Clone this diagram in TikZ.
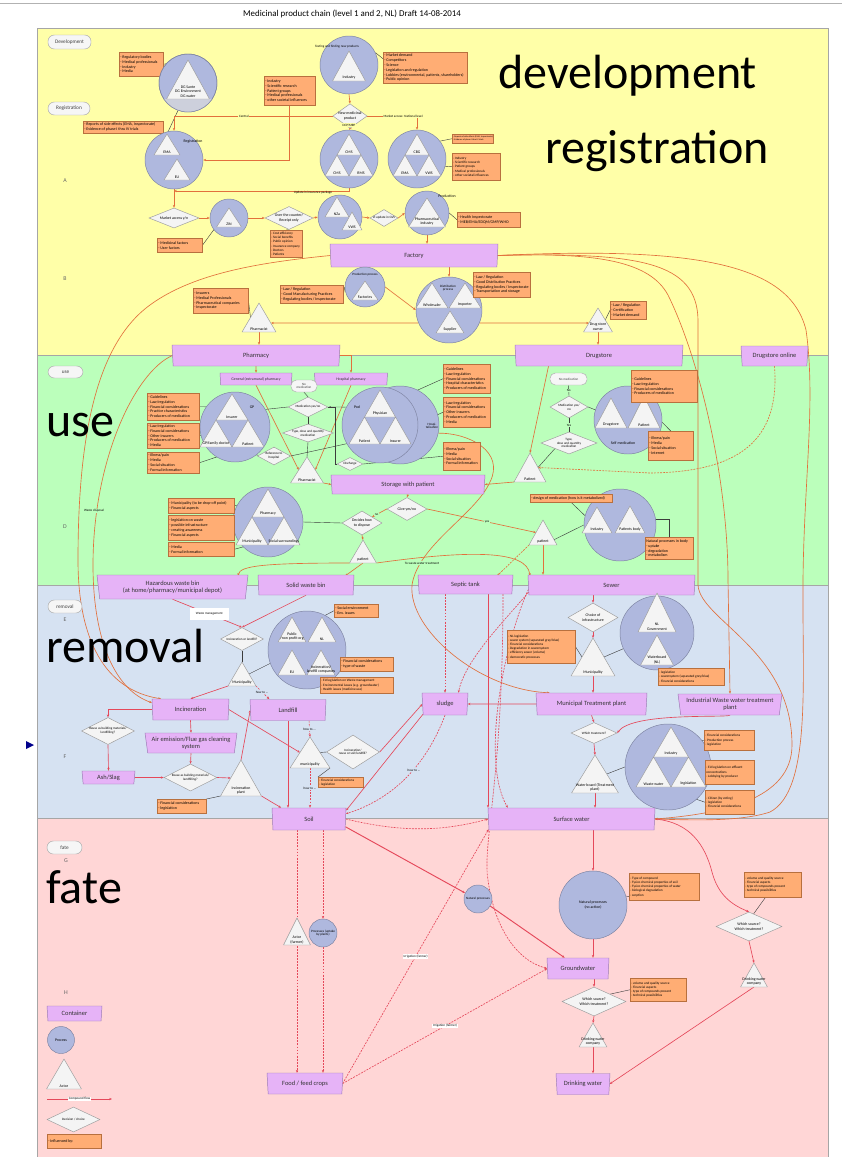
\documentclass[tikz,border=0pt]{standalone}
\usepackage{fontspec}
\setmainfont{Carlito}
\usetikzlibrary{shapes.geometric,arrows.meta}

\definecolor{bandyellow}{HTML}{FFFFA8}
\definecolor{bandgreen}{HTML}{BBFFBB}
\definecolor{bandblue}{HTML}{D6E2F2}
\definecolor{bandpink}{HTML}{FFD6D6}
\definecolor{contfill}{HTML}{E6B3F7}
\definecolor{contdraw}{HTML}{9A7AB3}
\definecolor{procfill}{HTML}{AFB8DE}
\definecolor{procdraw}{HTML}{7E84A2}
\definecolor{procpale}{HTML}{CDD0DC}
\definecolor{actfill}{HTML}{F4F4F4}
\definecolor{actdraw}{HTML}{9C9C9C}
\definecolor{inflfill}{HTML}{FFAD74}
\definecolor{infldraw}{HTML}{B8703E}
\definecolor{floworange}{HTML}{E2703C}
\definecolor{flowred}{HTML}{E5485A}
\definecolor{inkline}{HTML}{3C3C3C}

\newcommand\titlefont{\fontsize{7.6}{9}\selectfont}
\newcommand\bigfont{\fontsize{41}{41}\selectfont}
\newcommand\contfont{\fontsize{5.5}{6.3}\selectfont}
\newcommand\boxfont{\fontsize{3.4}{4.1}\selectfont}
\newcommand\minibox{\fontsize{2.9}{3.6}\selectfont}
\newcommand\labfont{\fontsize{3.3}{3.9}\selectfont}
\newcommand\tinyfont{\fontsize{2.8}{3.2}\selectfont}
\newcommand\pillfont{\fontsize{4.5}{5}\selectfont}
\newcommand\rowfont{\fontsize{5}{6}\selectfont}

\pgfdeclarelayer{back}
\pgfdeclarelayer{lines}
\pgfsetlayers{back,lines,main}

\tikzset{
  wh/.style 2 args={minimum width={#1*0.3mm}, minimum height={#2*0.3mm}},
  rad/.style={minimum size={2*#1*0.3mm}},
  container/.style={trapezium, trapezium angle=78, shape border rotate=180,
    trapezium stretches body, draw=contdraw, fill=contfill, font=\contfont,
    text=black!80, align=center, inner sep=0pt},
  smallcont/.style={container, font=\labfont},
  process/.style={circle, draw=procdraw, fill=procfill, inner sep=0pt,
    font=\labfont, align=center},
  actorshape/.style={draw=actdraw, fill=actfill, line join=round},
  actorlab/.style={anchor=south, font=\labfont, align=center, inner sep=0.6pt},
  decision/.style={diamond, aspect=2, draw=actdraw, fill=actfill,
    font=\labfont, align=center, inner sep=0pt},
  inflrect/.style={rectangle, draw=infldraw, fill=inflfill, inner sep=0pt},
  infltext/.style={anchor=west, align=left, font=\boxfont, inner sep=0pt},
  phasepill/.style={rectangle, rounded corners=1.9mm, draw=gray!65, fill=gray!7,
    font=\pillfont, text=black!75, inner sep=0pt, align=center},
  bigword/.style={anchor=base west, inner sep=0pt, font=\bigfont},
  rowlab/.style={font=\rowfont, text=black!60},
  plainnote/.style={font=\labfont, inner sep=0.5pt, align=center},
  linetag/.style={fill=white, font=\tinyfont, inner sep=0.6pt},
  arrowtip/.style={-{Stealth[length=2.4pt,width=1.9pt]}},
  flow/.style={draw=floworange, line width=0.55pt, arrowtip},
  rflow/.style={draw=flowred, line width=0.55pt, arrowtip},
  dflow/.style={rflow, dash pattern=on 1.6pt off 1pt},
  link/.style={draw=inkline, line width=0.35pt},
  linka/.style={link, shorten <=0.6pt, shorten >=0.6pt, -{Stealth[length=1.6pt,width=1.3pt]}},
}

% actor: name, apex x, apex y, half width, height, label
\newcommand\actor[6]{%
  \draw[actorshape] (#2,#3) coordinate (#1-t) -- ++(-#4,#5) coordinate (#1-l)
    -- ++({2*#4},0) coordinate (#1-r) -- cycle;
  \coordinate (#1-b) at (#2,{#3+#5});
  \coordinate (#1-w) at ({#2-#4/2},{#3+#5/2});
  \coordinate (#1-e) at ({#2+#4/2},{#3+#5/2});
  \node[actorlab] (#1) at (#2,{#3+#5-0.5}) {#6};
}
% influence box: [text options] name, x, y, width, height, lines
\newcommand\influence[7][]{%
  \node[inflrect, wh={#5}{#6}, anchor=north west] (#2) at (#3,#4) {};
  \node[infltext, #1] at ([xshift=0.9pt]#2.west) {#7};
}

\begin{document}
\begin{tikzpicture}[x=0.3mm,y=-0.3mm]
\useasboundingbox (0,0) rectangle (842,1157);
\begin{pgfonlayer}{back}
  \fill[white] (0,0) rectangle (842,1157);
  \fill[bandyellow] (37,28) rectangle (828,355);
  \fill[bandgreen] (37,355) rectangle (828,585);
  \fill[bandblue] (37,585) rectangle (828,818);
  \fill[bandpink] (37,818) rectangle (828,1157);
  \draw[gray!60, line width=0.6pt] (0,3) -- (842,3);
  \draw[gray!70, line width=0.5pt] (37,1157) -- (37,28) -- (828,28) -- (828,1157);
  \foreach \yy in {355,585,818} \draw[gray!70, line width=0.5pt] (37,\yy) -- (828,\yy);
\end{pgfonlayer}

\node[font=\titlefont] (title) at (352,14) {Medicinal product chain (level 1 and 2, NL) Draft 14-08-2014};

% phase pills and row letters
\node[phasepill, wh={43}{14}] (pdev) at (69.5,42) {Development};
\node[phasepill, wh={42}{13}] (preg) at (69,108.5) {Registration};
\node[phasepill, wh={35}{12}] (puse) at (65.5,372) {use};
\node[phasepill, wh={34}{13}] (prem) at (65,606.5) {removal};
\node[phasepill, wh={35}{13}] (pfate) at (64.5,847.5) {fate};
\node[rowlab] (rowA) at (65,181) {A};
\node[rowlab] (rowB) at (65,279) {B};
\node[rowlab] (rowD) at (65,527) {D};
\node[rowlab] (rowE) at (65,620) {E};
\node[rowlab] (rowF) at (65,757) {F};
\node[rowlab] (rowG) at (66,861) {G};
\node[rowlab] (rowH) at (66,993) {H};
\node[bigword] (wdev) at (498,88) {development};
\node[bigword] (wreg) at (545,163) {registration};
\node[bigword] (wuse) at (46,436) {use};
\node[bigword] (wrem) at (46,662) {removal};
\node[bigword] (wfate) at (46,903) {fate};
\fill[blue!55!black] (26,741) -- (34,745) -- (26,749) -- cycle;

% ---------- development / registration ----------
\influence{boxdg}{119}{52}{44}{24}{- Regulatory bodies\\- Medical professionals\\- Industry\\- Media}
\node[process, rad=29] (dgc) at (188,83) {};
\begin{scope}
  \clip (188,83) circle[radius=29];
  \fill[procpale] (150,99) rectangle (230,115);
\end{scope}
\draw[procdraw] (188,83) circle[radius=29];
\actor{dgt}{188}{60}{21.5}{39}{DG Sante\\DG Environment\\DG water}

\influence{boxside}{83}{121}{80}{12}{- Reports of side effects (EMA, Inspectorate)\\- Evidence of phase I thru IV trials}
\node[process, rad=29] (regc) at (174,160) {};
\node[plainnote] (reglab) at (193,141) {Registration};
\actor{ema}{167}{134}{13}{21}{EMA}
\actor{eu}{177}{159}{13}{21}{EU}
\coordinate (regj) at (174,191);

\node[decision, wh={50}{20}, aspect=2.5] (mkt) at (174,218) {Market access y/n};
\node[process, rad=19] (zinc) at (229,218) {};
\actor{zin}{229}{208}{12.5}{19}{ZiN}
\influence{boxzin}{157}{238}{45}{14}{- Medicinal factors\\- User factors}
\node[decision, wh={48}{23}, aspect=2.1] (otc) at (289,218) {Over the counter/\\Receipt only};
\influence[font=\minibox]{boxotc}{270}{230}{32}{27}{- Cost efficiency\\- Social benefits\\- Public opinion\\- Insurance company\\- Doctors\\- Patients}

\node[process, rad=29] (indc) at (349,65) {};
\actor{indt}{349}{51}{16.5}{30}{Industry}
\node[plainnote, font=\tinyfont] (indlab) at (337,47) {Testing and finding new products};
\influence{boxind}{383}{52}{84}{31}{- Market demand\\- Competitors\\- Science\\- Legislation and regulation\\- Lobbies (environmental, patients, shareholders)\\- Public opinion}
\influence{boxsoc}{264}{76}{51}{29}{- Industry\\- Scientific research\\- Patient groups\\- Medical professionals\\- other societal influences}
\node[decision, wh={32}{23}, aspect=1.4] (newprod) at (350,116) {New medicinal\\product};

\node[process, rad=29] (dcpc) at (349,159) {};
\node[plainnote, font=\tinyfont, fill=bandyellow] (dcplab) at (349,125) {DCP/MRP};
\actor{dcp1}{349}{134}{12}{21}{CMS}
\actor{dcp2}{337}{155}{12}{21}{CMS}
\actor{dcp3}{361}{155}{12}{21}{RMS}
\node[process, rad=29] (cbgc) at (417,159) {};
\actor{cbg1}{417}{134}{12}{21}{CBG}
\actor{cbg2}{405}{155}{12}{21}{EMA}
\actor{cbg3}{429}{155}{12}{21}{VWS}
\influence[font=\fontsize{1.9}{2.4}\selectfont]{boxcbga}{452}{134}{41}{9}{- Reports of side effects (EMA, Inspectorate)\\- Evidence of phase I thru IV trials}
\influence[font=\minibox]{boxcbgb}{452}{153}{48}{27}{- Industry\\- Scientific research\\- Patient groups\\- Medical professionals\\- other societal influences}

\node[process, rad=22] (updc) at (340,217) {};
\actor{upd1}{337}{197}{12}{20}{NZa}
\actor{upd2}{352}{212}{10}{18}{VWS}
\node[plainnote, font=\tinyfont] (updlab) at (313,193) {Update in insurance package};
\node[decision, wh={28}{17}, aspect=1.65, font=\tinyfont] (gvs) at (384,218) {ZI update in GVS};
\node[process, rad=22] (prodc) at (427,213) {};
\node[plainnote] (prodlab) at (447,196) {Production};
\actor{prodt}{427}{198}{18.5}{29}{Pharmaceutical\\industry}
\influence{boxprod}{457}{212}{63}{15}{- Health Inspectorate\\- MEB/EMA/EDQM/GMP/WHO}

\node[container, wh={168}{23}] (factory) at (414,255.5) {Factory};
\node[process, rad=20] (ppc) at (365,287) {};
\node[plainnote, font=\tinyfont] (pplab) at (365,275) {Production process};
\actor{ppt}{365}{281}{13}{19}{Factories}
\influence{boxgmp}{280}{285}{63}{18}{- Law / Regulation\\- Good Manufacturing Practices\\- Regulating bodies / Inspectorate}
\node[process, rad=33] (distc) at (449,310) {};
\actor{dwhole}{432}{283}{16}{25}{Wholesaler}
\actor{dimp}{465}{283}{16}{25}{Importer}
\actor{dsup}{450}{311}{14}{22}{Supplier}
\node[plainnote, font=\tinyfont] (distlab) at (448,288) {Distribution\\process};
\influence{boxgdp}{473}{272}{57}{25}{- Law / Regulation\\- Good Distribution Practices\\- Regulating bodies / Inspectorate\\- Transportation and storage}

\influence{boxpharm}{193}{288}{55}{25}{- Insurers\\- Medical Professionals\\- Pharmaceutical companies\\- Inspectorate}
\actor{pharm}{259}{303}{17}{29}{Pharmacist}
\coordinate (pharmin) at (271,323);
\actor{dso}{598}{308}{14.5}{24}{Drug store\\owner}
\coordinate (dsoin) at (589,323);
\influence{boxdso}{610}{301}{36}{18}{- Law / Regulation\\- Certification\\- Market demand}

\node[container, wh={168}{21}] (pharmacy) at (256,355.5) {Pharmacy};
\node[container, wh={168}{21}] (drugstore) at (599,355.5) {Drugstore};
\node[container, wh={67}{20}] (dsonline) at (774.5,356) {Drugstore online};

% ---------- use ----------
\node[smallcont, wh={72}{12}] (genph) at (256,379) {General (extramural) pharmacy};
\node[smallcont, wh={73}{12}] (hosph) at (351,379) {Hospital pharmacy};
\node[phasepill, font=\tinyfont, rounded corners=1.6mm, wh={26}{12}] (nomed1) at (304,386) {No\\medication};
\node[decision, wh={40}{20}, font=\tinyfont] (med1) at (308,407) {Medication yes/no};
\node[decision, wh={51}{18}, aspect=2.8, font=\tinyfont] (type1) at (308,433) {Type, dose and quantity\\medication};
\actor{pharm2}{307}{457}{16.5}{26}{Pharmacist}
\node[decision, wh={33}{18}, aspect=1.8, font=\tinyfont] (refh) at (274,456) {Reference to\\hospital};

\node[process, rad=35] (gpc) at (235,427) {};
\node[plainnote] (gplab) at (252,407) {GP};
\actor{gpins}{232}{394}{16}{26}{Insurer}
\actor{gpdoc}{216}{420}{16}{27}{GP/family doctor}
\actor{gppat}{248}{420}{16}{27}{Patient}
\influence{boxgpa}{147}{393}{52}{27}{- Guidelines\\- Law/regulation\\- Financial considerations\\- Practice characteristics\\- Producers of medication}
\influence{boxgpb}{147}{423}{52}{25}{- Law/regulation\\- Financial considerations\\- Other insurers\\- Producers of medication\\- Media}
\influence{boxgpc}{147}{452}{52}{21}{- Illness/pain\\- Media\\- Social situation\\- Formal information}

\node[process, rad=39] (podb) at (400,425) {};
\node[process, rad=38] (poda) at (380,425) {};
\node[plainnote] (podlab) at (357,407) {Pod};
\node[plainnote, font=\tinyfont] (hosplab) at (432,426) {Hospi-\\talisation};
\actor{podphy}{380}{390}{15.5}{27}{Physician}
\actor{podpat}{364.5}{417}{15.5}{27}{Patient}
\actor{podins}{395.5}{417}{15.5}{27}{Insurer}
\influence{boxpoda}{443}{364}{47}{29}{- Guidelines\\- Law/regulation\\- Financial considerations\\- Hospital characteristics\\- Producers of medication}
\influence{boxpodb}{443}{397}{47}{30}{- Law/regulation\\- Financial considerations\\- Other insurers\\- Producers of medication\\- Media}
\influence{boxpodc}{443}{442}{37}{28}{- Illness/pain\\- Media\\- Social situation\\- Formal information}
\node[decision, wh={26}{13}, font=\tinyfont] (disch) at (350,464) {Discharge};
\node[container, wh={154}{19}] (storage) at (408,484.5) {Storage with patient};

\node[phasepill, font=\tinyfont, rounded corners=1.6mm, wh={37}{12}] (nomed2) at (568.5,379) {No medication};
\node[decision, wh={38}{22}, aspect=1.7, font=\tinyfont] (med2) at (569,407) {Medication yes/\\no};
\node[decision, wh={56}{22}, aspect=2.6, font=\tinyfont] (type2) at (569,443) {Type,\\dose and quantity\\medication};
\actor{pat3}{530}{453}{16}{29}{Patient}
\node[process, rad=34] (smc) at (628,420) {};
\node[plainnote] (smlab) at (623,443) {Self medication};
\actor{smdrug}{611}{398}{16}{30}{Drugstore}
\actor{smpat}{644}{396}{16}{32}{Patient}
\influence{boxsma}{631}{370}{66}{32}{- Guidelines\\- Law/regulation\\- Financial considerations\\- Producers of medication}
\influence{boxsmb}{648}{431}{45}{29}{- Illness/pain\\- Media\\- Social situation\\- Internet}

\node[process, rad=35] (wdc) at (268,522) {};
\actor{wdph}{268}{489}{16}{28}{Pharmacy}
\actor{wdmun}{252}{517}{16}{28}{Municipality}
\actor{wdsoc}{284}{517}{16}{28}{Social surroundings}
\influence{boxwda}{168}{498}{66}{15}{- Municipality (to be drop-off point)\\- Financial aspects}
\influence{boxwdb}{168}{515}{66}{25}{- legislation on waste\\- possible infrastructure\\- creating awareness\\- Financial aspects}
\influence{boxwdc}{168}{542}{66}{14}{- Media\\- Formal information}
\node[decision, wh={40}{24}, aspect=1.7] (decide) at (362,523) {Decides how\\to dispose};
\node[decision, wh={40}{23}, aspect=1.8] (give) at (407,509) {Give yes/no};
\actor{pat1}{363}{540}{13.5}{23}{patient}
\actor{pat2}{543}{520}{14}{25}{patient}
\node[process, rad=36] (ipbc) at (620,525) {};
\actor{ipbind}{597}{507}{15}{26}{Industry}
\actor{ipbpat}{630}{506}{15}{27}{Patients body}
\influence{boxdesign}{530}{494}{82}{8}{- design of medication (how is it metabolized)}
\influence{boxnat}{645}{537}{48}{22}{Natural processes in body\\- uptake\\- degradation\\- metabolism}
\coordinate (hazin) at (238,576);
\coordinate (solin) at (345,576);
\coordinate (sewin) at (530,576);
\coordinate (sepin) at (497,576);

\node[container, wh={151}{24}] (hazard) at (172.5,587) {Hazardous waste bin\\(at home/pharmacy/municipal depot)};
\node[container, wh={96}{20}] (solid) at (306,585) {Solid waste bin};
\node[container, wh={95}{19}] (septic) at (465.5,584.5) {Septic tank};
\node[container, wh={167}{20}] (sewer) at (611.5,585) {Sewer};

% ---------- removal ----------
\node[decision, wh={43}{23}, aspect=1.9, font=\tinyfont] (incl) at (242,639) {Incineration or landfill?};
\actor{mun1}{242}{662}{14}{24}{Municipality}
\node[process, rad=39] (wmc) at (307,650) {};
\actor{wmpub}{292}{617}{14}{25}{Public\\/non profit org}
\actor{wmnl}{322}{617}{14}{25}{NL}
\actor{wmeu}{292}{650}{14}{25}{EU}
\actor{wminc}{321}{650}{14}{25}{Incineration/\\landfill companies}
\influence{boxrema}{334}{604}{44}{13}{- Social environment\\- Env. issues}
\influence{boxremb}{340}{657}{53}{14}{- Financial considerations\\- type of waste}
\influence[font=\minibox]{boxremc}{320}{677}{73}{16}{- EU legislation on Waste management\\- Environmental issues (e.g. groundwater)\\- Health issues (medicine use)}

\node[container, wh={77}{21}] (incin) at (190.5,709.5) {Incineration};
\node[container, wh={76}{21}] (landfill) at (288,710) {Landfill};
\node[container, wh={92}{20}] (air) at (191,743) {Air emission/Flue gas cleaning\\system};
\node[decision, wh={53}{27}, font=\tinyfont] (reuse1) at (108,731) {Reuse as building materials/\\landfilling?};
\node[container, wh={53}{13}] (ash) at (108.5,777.5) {Ash/Slag};
\node[decision, wh={53}{27}, font=\tinyfont] (reuse2) at (190.5,777.5) {Reuse as building materials/\\landfilling?};
\actor{incpl}{241}{760}{20.5}{36}{Incineration\\plant}
\influence{boxinc}{157}{799}{49}{14}{- Financial considerations\\- legislation}
\actor{mun2}{310}{737}{20}{31}{municipality}
\node[decision, wh={53}{34}, aspect=1.6, font=\tinyfont] (reuse3) at (353,752) {Incineration/\\reuse or soil/landfill?};
\influence[font=\minibox]{boxmun2}{318}{777}{45}{10}{- Financial considerations\\- legislation}
\node[container, wh={74}{22}] (soil) at (309,819) {Soil};
\node[container, wh={46}{22}] (sludge) at (445,704) {sludge};
\coordinate (sepout) at (488,594);
\coordinate (sepout2) at (503,594);

\node[decision, wh={50}{29}, aspect=1.7] (choice) at (593,617.5) {Choice of\\infrastructure};
\actor{mun3}{593}{638}{22}{38}{Municipality}
\influence[font=\minibox]{boxnl}{507}{630}{68}{33}{- NL legislation\\- sewer system (separated grey/blue)\\- Financial considerations\\- Degradation in sewersystem\\- efficiency sewer (volume)\\- democratic processes}
\node[process, rad=37] (nlc) at (657,633) {};
\actor{nlgov}{657}{593}{19}{39}{NL\\Government}
\actor{nlwb}{657}{635}{16.5}{30}{Waterboard\\(NL)}
\influence[font=\minibox]{boxwb}{658}{668}{66}{17}{- legislation\\- sewersystem (separated grey/blue)\\- Financial considerations}
\node[container, wh={111}{22}] (mtp) at (591.5,704) {Municipal Treatment plant};
\node[container, wh={104}{21}] (iwwt) at (730,704.5) {Industrial Waste water treatment\\plant};
\node[decision, wh={46}{21}, aspect=2.2, font=\tinyfont] (whtr) at (594,733) {Which treatment?};
\actor{wbt}{595}{755}{23.5}{38}{Water board (Treatment\\plant)}
\node[process, rad=43] (iwc) at (668,767) {};
\actor{iwind}{671}{727}{17.5}{30}{Industry}
\actor{iwww}{653.5}{757}{17.5}{30}{Waste water}
\actor{iwleg}{688.5}{757}{17.5}{30}{legislation}
\influence[font=\minibox]{boxiwa}{704}{730}{50}{20}{- Financial considerations\\- Production process\\- legislation}
\influence[font=\minibox]{boxiwb}{705}{760}{49}{24}{- EU legislation on effluent\\concentrations\\- Lobbying by producer}
\influence[font=\minibox]{boxiwc}{705}{790}{49}{24}{- Citizen (by voting)\\- legislation\\- Financial considerations}
\node[container, wh={167}{22}] (surf) at (571.5,819) {Surface water};

% ---------- fate ----------
\actor{farmer}{297}{918}{13.5}{27}{Actor\\(farmer)}
\node[process, rad=14, font=\tinyfont] (uplc) at (323,933) {Processes (uptake\\by plants)};
\node[process, rad=14, font=\tinyfont] (npsc) at (478,899) {Natural processes};
\node[process, rad=34] (npbc) at (593,905) {Natural processes\\(no action)};
\influence[font=\minibox]{boxnp}{629}{873}{70}{27}{- Type of compound\\- Fysico chemical properties of soil\\- Fysico chemical properties of water\\- biological degradation\\- sorption}
\influence[font=\minibox]{boxdsa}{744}{872}{57}{25}{- volume and quality source\\- Financial aspects\\- type of compounds present\\- technical possibilities}
\node[decision, wh={66}{29}, aspect=2.3] (ws1) at (749,926.5) {Which source?\\Which treatment?};
\actor{dwc1}{754}{963}{13.5}{24}{Drinking water\\company}
\node[container, wh={62}{21}] (gw) at (578,968.5) {Groundwater};
\node[decision, wh={64}{29}, aspect=2.3] (ws2) at (594,1001.5) {Which source?\\Which treatment?};
\influence[font=\minibox]{boxdsb}{630}{978}{56}{23}{- volume and quality source\\- Financial aspects\\- type of compounds present\\- technical possibilities}
\actor{dwc2}{593}{1023}{14}{24}{Drinking water\\company}
\node[container, wh={54}{21}] (dw) at (583,1084) {Drinking water};
\node[container, wh={76}{21}] (food) at (305,1083.5) {Food / feed crops};

% ---------- legend ----------
\node[container, wh={55}{15}] (lgcont) at (74.5,1013.5) {Container};
\node[process, rad=13.5] (lgproc) at (61,1040) {Process};
\actor{lgact}{64}{1059}{17.5}{30}{Actor}
\coordinate (lgf1) at (47,1099);
\coordinate (lgf2) at (112,1099);
\node[decision, wh={53}{25}, aspect=2.1, font=\tinyfont] (lgdec) at (73.5,1119.5) {Decision / choice};
\influence{lginfl}{47}{1134}{54}{14}{- Influenced by:}

% ---------- connectors ----------
\begin{pgfonlayer}{lines}
\draw[link] (boxdg.east) -- (dgt-t);
\draw[link] (dgc.250) -- (ema-t);
\draw[link] (boxside.east) -- (ema-w);
\draw[linka] (ema) -- (eu);
\draw[flow] (newprod.west) -| (regc.north) node[pos=0.28, linetag, fill=bandyellow] {Central};
\draw[flow] (newprod.east) -| (cbgc.north) node[pos=0.36, linetag, fill=bandyellow] {Market access: National level};
\draw[flow] (indc.south) -- (newprod.north);
\draw[flow] (newprod.south) -- (dcpc.north);
\draw[link] (indc.25) -- (boxind.168);
\draw[flow] (boxsoc.south) |- (regc.east);
\draw[flow] (regc.south) -- (mkt.north);
\draw[flow] (dcpc.south) |- (regj);
\draw[flow] (mkt.east) -- (zinc.west);
\draw[flow] (zinc.east) -- (otc.west);
\draw[flow] (otc.east) -- (updc.west);
\draw[flow] (updc.east) -- (gvs.west);
\draw[flow] (gvs.east) -- (prodc.west);
\draw[link] (boxzin.east) -- (zin-w);
\draw[link] (boxotc.north) -- (otc.south);
\draw[link] (boxprod.west) -- (prodc.east);
\draw[link] (boxcbga.west) -- (cbg1-e);
\draw[link] (boxcbgb.west) -- (cbg3-e);
\draw[linka] (upd1) -- (upd2);
\foreach \a/\b in {dcp1/dcp2, dcp2/dcp3, dcp3/dcp1, cbg1/cbg2, cbg2/cbg3, cbg3/cbg1,
  gpins/gpdoc, gpdoc/gppat, gppat/gpins, podphy/podpat, podpat/podins, podins/podphy,
  iwind/iwww, iwww/iwleg, iwleg/iwind, wmpub/wmnl, wmnl/wminc, wmpub/wmeu, wmeu/wminc}
  \draw[linka] (\a) -- (\b);
\draw[flow] (prodc.south) -- (prodc.south |- factory.north);
\draw[flow] (factory.south -| distc.north) -- (distc.north);
\draw[flow] (ppc.east) -- (distc.west);
\draw[link] (boxgmp.east) -- (ppc.west);
\draw[link] (boxgdp.west) -- (distc.35);
\draw[link] (boxpharm.east) -- (pharm-w);
\draw[flow] (distc.203) -- (pharmin);
\draw[flow] (distc.-23) -- (dsoin);
\draw[flow] (pharm-b) -- (pharm-b |- pharmacy.north);
\draw[flow] (dso-b) -- (dso-b |- drugstore.north);
\draw[link] (boxdso.west) -- (dso-e);

% long flows out of factory and pharmacy
\draw[flow] (factory.west) .. controls (265,262) and (195,272) .. (150,305)
  .. controls (95,345) and (78,440) .. (78,560) .. controls (78,640) and (105,690) .. (incin.160);
\draw[flow] (pharmacy.west) .. controls (135,372) and (93,460) .. (93,565)
  .. controls (93,640) and (115,690) .. (incin.170);
\node[linetag, fill=bandgreen] (wdlab) at (94,511) {Waste disposal};
\draw[flow] (factory.east) .. controls (640,252) and (697,262) .. (698,320) -- (698,585)
  .. controls (700,620) and (792,650) .. (792,745) .. controls (792,800) and (720,814) .. (surf.east);
\draw[flow] (factory.east) .. controls (600,252) and (650,262) .. (668,295)
  .. controls (700,360) and (728,480) .. (728,580) -- (iwwt.north);
\draw[flow] (factory.east) .. controls (700,246) and (790,265) .. (806,330)
  .. controls (816,400) and (804,480) .. (803,580) .. controls (802,680) and (812,790) .. (770,812)
  .. controls (740,822) and (690,820) .. (surf.east);
\draw[flow] (podb.-12) .. controls (470,433) and (505,452) .. (490,482)
  .. controls (475,515) and (418,545) .. (412,585) .. controls (408,630) and (480,690) .. (mtp.165);
\node[linetag, fill=bandgreen] (wwtlab) at (422,563) {To waste water treatment};

% use
\draw[flow] (pharmacy.south) -- (genph.north);
\draw[flow] (pharmacy.east) -| (hosph.north);
\draw[flow] (genph.south) -- (pharm2-w);
\draw[flow] (hosph.south) -- (pharm2-e);
\draw[link] (nomed1.south) -- (med1.north);
\draw[link] (med1.south) -- (type1.north);
\draw[link] (type1.south) -- (pharm2-t);
\draw[link] (gpc.30) -- (med1.west);
\draw[linka] (poda.152) -- (med1.east);
\draw[link] (disch.west) -- ++(-2,0) |- (med1.east);
\draw[link] (gppat.east) -- (refh.west);
\draw[link] (refh.east) -- (podpat.west);
\draw[link] (boxgpa.east) -- (gpins-w);
\draw[link] (boxgpb.east) -- (gpdoc-w);
\draw[link] (boxgpc.east) -- (gppat.south);
\draw[link] (boxpoda.west) -- (podphy-e);
\draw[link] (boxpodb.west) -- (podins-e);
\draw[link] (disch.east) -- (boxpodc.west);
\draw[flow] (pharm2-r) -- (storage.west);
\draw[flow] (storage.south) -- (give.north);
\draw[flow] (give.west) -- (decide.north east) node[pos=0.7, linetag, fill=bandgreen] {no};
\draw[flow] (give.east) -- (pat2-w) node[pos=0.55, linetag, fill=bandgreen] {yes};
\draw[flow] (decide.south) -- (pat1-t);
\draw[link] (decide.west) -- (wdc.east);
\draw[flow] (pat1-l) .. controls (262,563) and (240,566) .. (hazin);
\draw[flow] (pat1-b) -- (solin);
\draw[flow] (pat1-r) .. controls (470,550) and (527,550) .. (sewin);
\draw[flow] (pat2-b) -- (pat2-b |- sewer.north);
\draw[flow, dash pattern=on 1.6pt off 1pt] (pat2-l) -- (sepin);
\draw[link] (pat2.east) -- (ipbc.west);
\draw[link] (boxdesign.south) -- (ipbind-w);
\draw[link] (ipbpat-e) -| (boxnat.north);
\draw[link] (nomed2.south) -- (med2.north) node[midway, linetag, fill=bandgreen] {No};
\draw[link] (med2.south) -- (type2.north) node[midway, linetag, fill=bandgreen] {Yes};
\draw[link] (smdrug-w) -- (med2.east);
\draw[link] (type2.south west) -- (pat3-e);
\draw[flow] (drugstore.192) -- (pat3-t);
\draw[flow] (pat3-l) -- (storage.east);
\draw[flow, dash pattern=on 1.6pt off 1pt] (dsonline.south) .. controls (780,440) and (740,472) .. (650,473) -- (pat3-e);
\draw[link] (boxsma.south west) -- (smdrug-e);
\draw[link] (smpat-e) -- (boxsmb.north);
\draw[link] (boxwda.east) -- (wdph-w);
\draw[link] (boxwdb.east) -- (wdmun-w);
\draw[link] (boxwdc.east) -- (wdmun.south);

% removal
\draw[rflow] (hazard.south) -- (incl.north) node[pos=0.53, fill=white, font=\tinyfont, wh={39}{12}, inner sep=0pt] {Waste management};
\draw[rflow] (solid.south) -- (incl.north);
\draw[link] (incl.south) -- (mun1-t);
\draw[rflow] (mun1-l) -- (incin.north);
\draw[dflow] (mun1-r) -- (landfill.150) node[pos=0.45, linetag, fill=bandblue] {how to ...};
\draw[link] (mun1-e) -- (wmc.200);
\draw[link] (boxrema.west) -- (wmnl-t);
\draw[link] (boxremb.west) -- (wminc-e);
\draw[link] (boxremc.west) -- (wmc.-35);
\draw[rflow] (incin.west) -| (reuse1.north);
\draw[rflow] (reuse1.south) -- (ash.north);
\draw[rflow] (incin.south) -- (air.north);
\draw[rflow] (air.south) -- (reuse2.north);
\draw[rflow] (ash.east) -- (reuse2.west);
\draw[rflow] (reuse2.east) -- (incpl-w);
\draw[rflow] (incpl-t) -- (landfill.west);
\draw[rflow] (incpl-r) -- (soil.158);
\draw[link] (boxinc.north east) -- (incpl-l);
\draw[rflow] (incin.east) -- (mun2-w);
\draw[rflow] (landfill.south) -- (landfill.south |- soil.north);
\draw[dflow] (landfill.-27) -- (mun2-t) node[midway, linetag, fill=bandblue] {how to ...};
\draw[dflow] (mun2-b) -- (mun2-b |- soil.north) node[midway, linetag, fill=bandblue] {how to ...};
\draw[link] (mun2-e) -- (reuse3.west);
\draw[link] (mun2-r) -- (boxmun2.north west);
\draw[rflow] (reuse3.east) -- (sludge.west);
\draw[rflow] (sludge.205) -- (soil.13);
\draw[dflow] (sludge.south) .. controls (432,750) and (405,795) .. (soil.8);
\node[linetag, fill=bandblue] (sllab) at (414,770) {how to ...};
\draw[dflow] (sludge.north |- septic.south) -- (sludge.north);
\draw[rflow] (sepout) -- (sepout |- surf.north);
\draw[dflow] (sepout2) .. controls (503,780) and (482,845) .. (488,880) .. controls (494,925) and (515,960) .. (gw.west);
\draw[dflow] (sewer.185) .. controls (505,620) and (465,660) .. (sludge.40);
\draw[dflow] (sewer.183) .. controls (505,640) and (480,760) .. (surf.170);
\draw[dflow] (soil.east) .. controls (400,832) and (440,832) .. (surf.west);
\draw[rflow] (choice.north |- sewer.south) -- (choice.north);
\draw[rflow] (choice.south) -- (mun3-t);
\draw[rflow] (mun3-b) -- (mun3-b |- mtp.north);
\draw[link] (mun3-e) -- (nlc.205);
\draw[link] (boxnl.east) -- (mun3-w);
\draw[link] (nlwb-b) -- (boxwb.north west);
\draw[rflow] (mtp.west) -- (sludge.east);
\draw[rflow] (mtp.south) -- (whtr.north);
\draw[rflow] (iwwt.south) .. controls (725,718) and (632,712) .. (whtr.east);
\draw[rflow] (whtr.south) -- (wbt-t);
\draw[rflow] (wbt-b) -- (wbt-b |- surf.north);
\draw[link] (wbt-e) -- (iwc.west);
\draw[link] (boxiwa.west) -- (iwind-e);
\draw[link] (boxiwb.west) -- (iwleg-e);
\draw[link] (iwww) -- (boxiwc.west);

% fate
\draw[rflow, line width=0.8pt] (soil.-12) -- (npsc.155);
\draw[rflow, line width=0.8pt] (npsc.-30) -- (gw.141);
\draw[rflow] (npbc.north |- surf.south) -- (npbc.north);
\draw[rflow] (npbc.south) -- (npbc.south |- gw.north);
\draw[rflow] (ws2.north |- gw.south) -- (ws2.north);
\draw[rflow] (ws2.south) -- (dwc2-t);
\draw[rflow] (dwc2-b) -- (dwc2-b |- dw.north);
\draw[link] (npbc.15) -- (boxnp.south);
\draw[link] (ws2.north east) -- (boxdsb.west);
\draw[link] (boxdsa.-120) -- (ws1.70);
\draw[rflow] (surf.east) .. controls (690,822) and (705,845) .. (712,872) .. controls (718,895) and (732,905) .. (ws1.north);
\draw[rflow] (ws1.south) -- (dwc1-t);
\draw[rflow] (dwc1-b) -- (dw.east);
\draw[dflow] (farmer-t |- soil.south) -- (farmer-t |- food.north);
\draw[dflow] (uplc.north |- soil.south) -- (uplc.north);
\draw[dflow] (uplc.south) -- (uplc.south |- food.north);
\draw[dflow] (food.east) -- (gw.west) node[midway, linetag] {Irrigation (farmer)};
\draw[dflow] (food.east) -- (surf.187) node[midway, linetag] {Irrigation (farmer)};

% legend
\draw[rflow] (lgf1) -- (lgf2) node[midway, linetag] {Compound flow};
\end{pgfonlayer}
\end{tikzpicture}
\end{document}
